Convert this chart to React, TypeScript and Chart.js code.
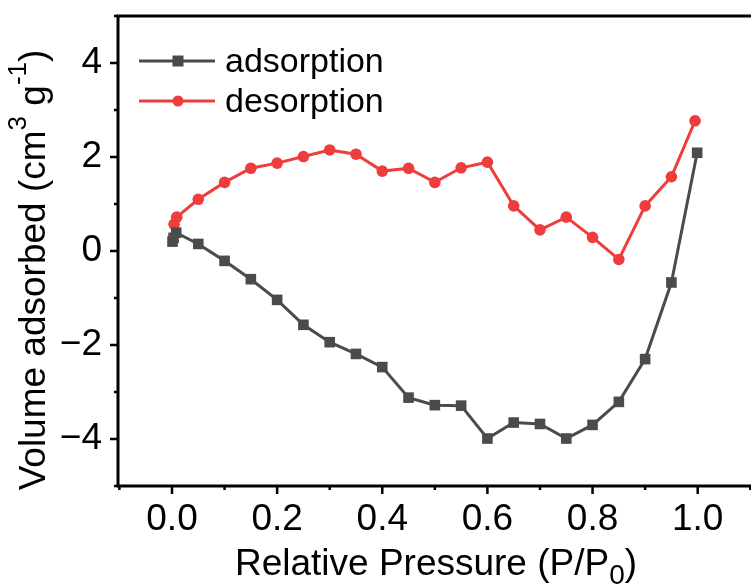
import React, { useEffect, useRef } from 'react';
import { Chart, registerables } from 'chart.js';

Chart.register(...registerables);

// ---- data ----
const seriesNames = ['adsorption', 'desorption'];
const adsorptionX = [0.001, 0.003, 0.008, 0.05, 0.1, 0.15, 0.2, 0.25, 0.3, 0.35, 0.4, 0.45, 0.5, 0.55, 0.6, 0.65, 0.7, 0.75, 0.8, 0.85, 0.9, 0.95, 0.999];
const adsorptionY = [0.2, 0.28, 0.39, 0.15, -0.21, -0.6, -1.04, -1.57, -1.94, -2.19, -2.47, -3.12, -3.28, -3.29, -3.99, -3.65, -3.68, -3.99, -3.7, -3.21, -2.3, -0.67, 2.09];
const desorptionX = [0.004, 0.009, 0.05, 0.1, 0.15, 0.2, 0.25, 0.3, 0.35, 0.4, 0.45, 0.5, 0.55, 0.6, 0.65, 0.7, 0.75, 0.8, 0.85, 0.9, 0.95, 0.995];
const desorptionY = [0.57, 0.72, 1.1, 1.46, 1.76, 1.87, 2.01, 2.15, 2.06, 1.7, 1.76, 1.46, 1.77, 1.89, 0.96, 0.45, 0.72, 0.29, -0.18, 0.96, 1.58, 2.77];

const xMajorTicks = [0, 0.2, 0.4, 0.6, 0.8, 1.0];
const xTickLabels = ['0.0', '0.2', '0.4', '0.6', '0.8', '1.0'];
const xMinorTicks = [-0.1, 0.1, 0.3, 0.5, 0.7, 0.9, 1.1];
const yMajorTicks = [-4, -2, 0, 2, 4];
const yTickLabels = ['\u22124', '\u22122', '0', '2', '4'];
const yMinorTicks = [-5, -3, -1, 1, 3, 5];

const xTitleRuns = [
  { t: 'Relative Pressure (P/P', script: 0 },
  { t: '0', script: -1 },
  { t: ')', script: 0 },
];
const yTitleRuns = [
  { t: 'Volume adsorbed (cm', script: 0 },
  { t: '3', script: 1 },
  { t: ' g', script: 0 },
  { t: '-1', script: 1 },
  { t: ')', script: 0 },
];

const GRAY = '#4b4b4b';
const RED = '#ef3c3c';
const FONT = "'Liberation Sans', Arial, sans-serif";

function drawRuns(ctx: CanvasRenderingContext2D, runs: { t: string; script: number }[], cx: number) {
  const main = 37;
  const sup = 26;
  const sub = 28;
  const sizeOf = (r: { script: number }) => (r.script === 0 ? main : r.script > 0 ? sup : sub);
  let total = 0;
  const widths = runs.map((r) => {
    ctx.font = `${sizeOf(r)}px ${FONT}`;
    const w = ctx.measureText(r.t).width;
    total += w;
    return w;
  });
  let x = cx - total / 2;
  runs.forEach((r, i) => {
    ctx.font = `${sizeOf(r)}px ${FONT}`;
    const dy = r.script === 0 ? 0 : r.script > 0 ? -19 : 9;
    ctx.fillText(r.t, x, dy);
    x += widths[i];
  });
}

const framePlugin = {
  id: 'frameTicksTitlesLegend',
  afterDraw(chart: any) {
    const { ctx, chartArea } = chart;
    const xs = chart.scales.x;
    const ys = chart.scales.y;
    const { left, right, top, bottom } = chartArea;
    ctx.save();
    ctx.strokeStyle = '#000';
    ctx.lineCap = 'butt';
    // frame
    ctx.lineWidth = 3;
    ctx.beginPath();
    ctx.moveTo(left, bottom + 1.5);
    ctx.lineTo(left, top - 1.5);
    ctx.moveTo(left - 1.5, top);
    ctx.lineTo(right, top);
    ctx.moveTo(left - 1.5, bottom);
    ctx.lineTo(right, bottom);
    ctx.stroke();
    // ticks
    ctx.lineWidth = 2.5;
    ctx.beginPath();
    xMajorTicks.forEach((v) => {
      const p = xs.getPixelForValue(v);
      ctx.moveTo(p, bottom);
      ctx.lineTo(p, bottom + 8);
    });
    xMinorTicks.forEach((v) => {
      const p = xs.getPixelForValue(v);
      ctx.moveTo(p, bottom);
      ctx.lineTo(p, bottom + 4);
    });
    yMajorTicks.forEach((v) => {
      const p = ys.getPixelForValue(v);
      ctx.moveTo(left, p);
      ctx.lineTo(left - 8, p);
    });
    yMinorTicks.forEach((v) => {
      const p = ys.getPixelForValue(v);
      ctx.moveTo(left, p);
      ctx.lineTo(left - 4, p);
    });
    ctx.stroke();

    // titles
    ctx.fillStyle = '#000';
    ctx.textBaseline = 'alphabetic';
    ctx.textAlign = 'left';
    ctx.save();
    ctx.translate(0, 575);
    drawRuns(ctx, xTitleRuns, (left + right) / 2 + 1.5);
    ctx.restore();
    ctx.save();
    ctx.translate(45, 270);
    ctx.rotate(-Math.PI / 2);
    drawRuns(ctx, yTitleRuns, 0);
    ctx.restore();

    // legend
    const rows = [61, 101];
    chart.data.datasets.forEach((ds: any, i: number) => {
      const y = rows[i];
      ctx.strokeStyle = ds.borderColor;
      ctx.lineWidth = 3;
      ctx.beginPath();
      ctx.moveTo(139, y);
      ctx.lineTo(215, y);
      ctx.stroke();
      ctx.fillStyle = ds.pointBackgroundColor;
      if (ds.pointStyle === 'rect') {
        ctx.fillRect(178 - 5.5, y - 5.5, 11, 11);
      } else {
        ctx.beginPath();
        ctx.arc(178, y, 5.5, 0, Math.PI * 2);
        ctx.fill();
      }
      ctx.fillStyle = '#000';
      ctx.font = `34px ${FONT}`;
      ctx.fillText(ds.label, 225, y + 10.5);
    });
    ctx.restore();
  },
};

function zeroPadding(s: any) {
  s.paddingTop = 0;
  s.paddingBottom = 0;
  s.paddingLeft = 0;
  s.paddingRight = 0;
}

export default function App() {
  const ref = useRef<HTMLCanvasElement | null>(null);
  useEffect(() => {
    if (!ref.current) return;
    const adsorption = adsorptionX.map((x, i) => ({ x, y: adsorptionY[i] }));
    const desorption = desorptionX.map((x, i) => ({ x, y: desorptionY[i] }));
    const chart = new Chart(ref.current, {
      type: 'line',
      data: {
        datasets: [
          {
            label: seriesNames[0],
            data: adsorption,
            borderColor: GRAY,
            backgroundColor: GRAY,
            pointBackgroundColor: GRAY,
            pointBorderColor: GRAY,
            pointStyle: 'rect',
            pointRadius: 7.5,
            pointBorderWidth: 0,
            borderWidth: 3,
            tension: 0,
          },
          {
            label: seriesNames[1],
            data: desorption,
            borderColor: RED,
            backgroundColor: RED,
            pointBackgroundColor: RED,
            pointBorderColor: RED,
            pointStyle: 'circle',
            pointRadius: 5.8,
            pointBorderWidth: 0,
            borderWidth: 3,
            tension: 0,
          },
        ],
      },
      options: {
        animation: false,
        responsive: false,
        devicePixelRatio: 1,
        layout: { autoPadding: false, padding: { top: 16, left: 0, right: 0, bottom: 0 } },
        plugins: { legend: { display: false }, tooltip: { enabled: false } },
        scales: {
          x: {
            type: 'linear',
            min: -0.1027,
            max: 1.1014,
            grid: { display: false, drawTicks: false },
            border: { display: false },
            afterBuildTicks: (s: any) => {
              s.ticks = xMajorTicks.map((v) => ({ value: v }));
            },
            afterFit: (s: any) => {
              s.height = 99;
              zeroPadding(s);
            },
            ticks: {
              autoSkip: false,
              maxRotation: 0,
              padding: 12,
              color: '#000',
              font: { size: 37, family: FONT },
              callback: (_v: any, i: number) => xTickLabels[i],
            },
          },
          y: {
            type: 'linear',
            min: -5,
            max: 5,
            grid: { display: false, drawTicks: false },
            border: { display: false },
            afterBuildTicks: (s: any) => {
              s.ticks = yMajorTicks.map((v) => ({ value: v }));
            },
            afterFit: (s: any) => {
              s.width = 118;
              zeroPadding(s);
            },
            ticks: {
              autoSkip: false,
              padding: 16,
              color: '#000',
              font: { size: 37, family: FONT },
              callback: (_v: any, i: number) => yTickLabels[i],
            },
          },
        },
      },
      plugins: [framePlugin],
    } as any);
    return () => chart.destroy();
  }, []);
  return (
    <div style={{ position: 'absolute', left: 0, top: 0, width: 751, height: 585, background: '#fff' }}>
      <canvas ref={ref} width={751} height={585} style={{ display: 'block' }} />
    </div>
  );
}
